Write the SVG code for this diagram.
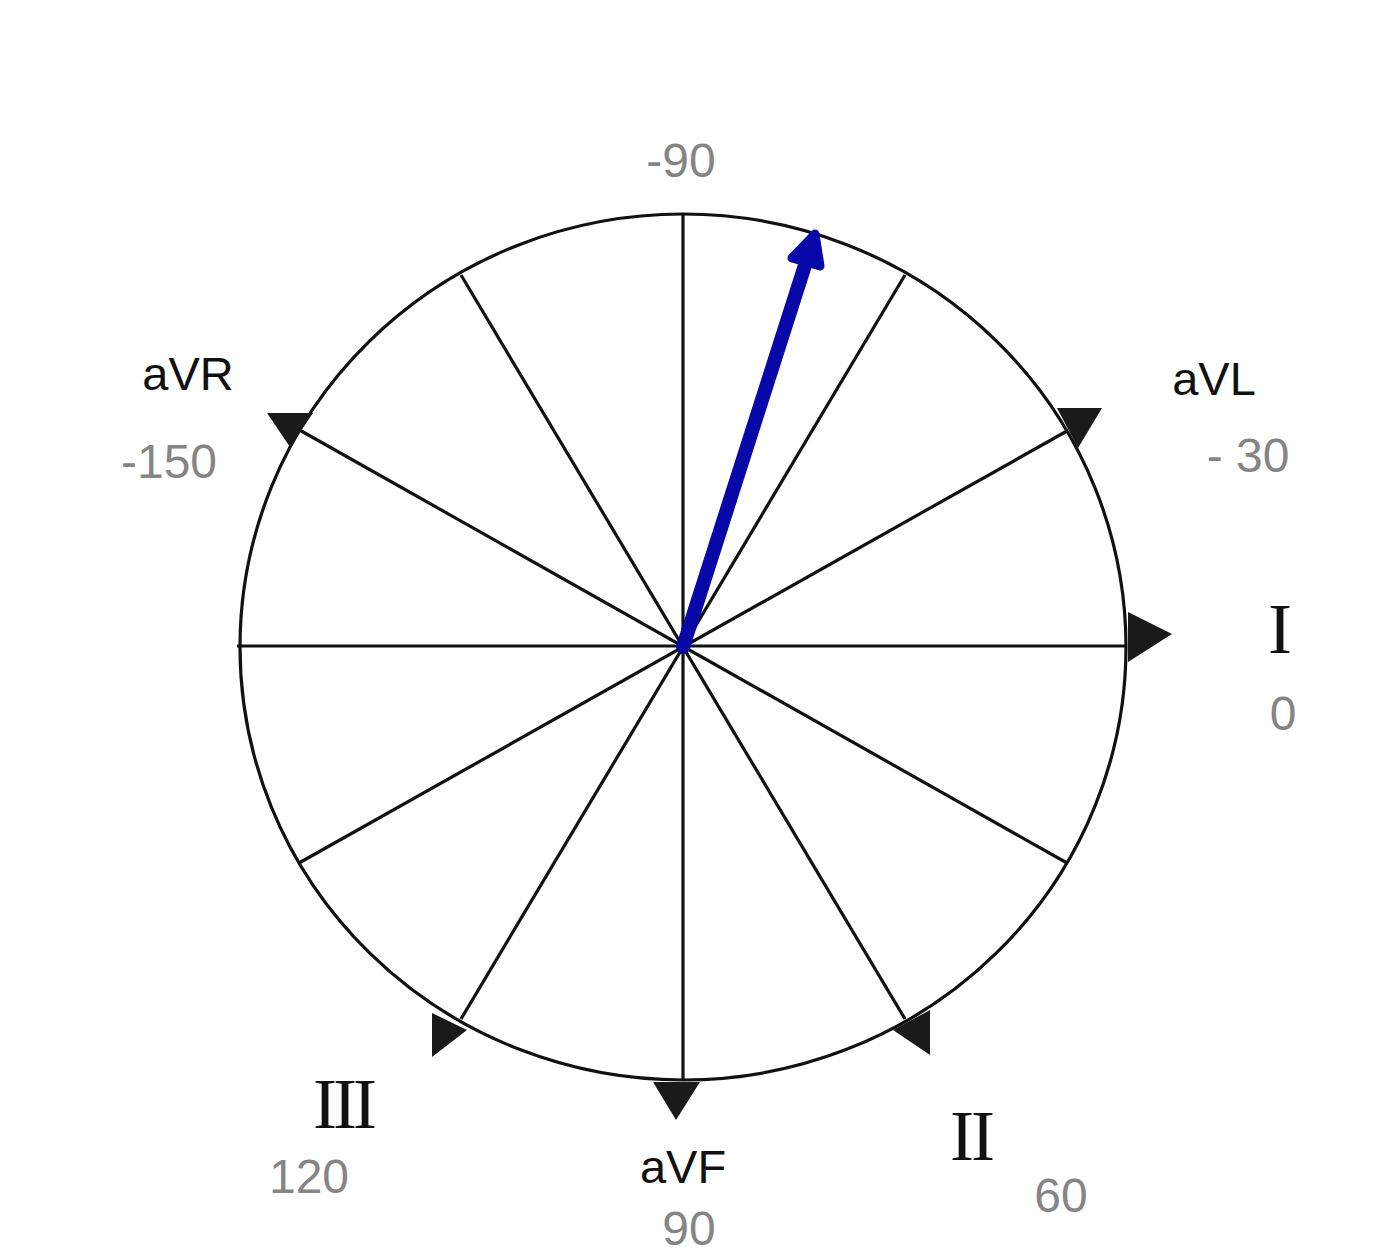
<svg xmlns="http://www.w3.org/2000/svg" width="1400" height="1257" viewBox="0 0 1400 1257">
<style>
.ax{stroke:#111;stroke-width:3.2;fill:none}
.tri{fill:#1a1a1a}
.lbl{font-family:"Liberation Sans",Arial,sans-serif;font-size:47px;fill:#111;text-anchor:middle}
.num{font-family:"Liberation Sans",Arial,sans-serif;font-size:48px;fill:#858585;text-anchor:middle}
.rom{font-family:"Liberation Serif","Times New Roman",serif;font-size:72px;fill:#111;text-anchor:middle}
</style>
<rect width="1400" height="1257" fill="#ffffff"/>
<g id="connectors">
<ellipse cx="683" cy="647" rx="443" ry="433" class="ax" stroke-width="3.6"/>
<line x1="237" y1="646" x2="1127" y2="646" class="ax"/>
<line x1="683" y1="214" x2="683" y2="1080" class="ax"/>
<line x1="299" y1="863" x2="1067" y2="431" class="ax"/>
<line x1="461" y1="1019" x2="905" y2="275" class="ax"/>
<line x1="461" y1="275" x2="905" y2="1019" class="ax"/>
<line x1="296" y1="428" x2="1067" y2="863" class="ax"/>
</g>
<g id="markers">
<polygon class="tri" points="1128,612 1128,662 1172,634"/>
<polygon class="tri" points="1057,408 1102,408 1078,448"/>
<polygon class="tri" points="267,413 313,413 290,447"/>
<polygon class="tri" points="653,1082 700,1082 676,1120"/>
<polygon class="tri" points="432,1013 432,1057 467,1030"/>
<polygon class="tri" points="930,1010 930,1055 893,1030"/>
</g>
<g id="vector">
<line x1="683" y1="647" x2="806" y2="262" stroke="#0808a8" stroke-width="14" stroke-linecap="round"/>
<polygon points="815,234 820,266 792,258" fill="#0808a8" stroke="#0808a8" stroke-width="9" stroke-linejoin="round"/>
</g>
<g id="labels">
<text class="num" x="681" y="177">-90</text>
<text class="lbl" x="188" y="390">aVR</text>
<text class="num" x="169" y="478">-150</text>
<text class="lbl" x="1214" y="395">aVL</text>
<text class="num" x="1248" y="472">- 30</text>
<text class="rom" x="1280" y="653">I</text>
<text class="num" x="1283" y="730">0</text>
<text class="rom" x="343" y="1128" letter-spacing="-4">III</text>
<text class="num" x="309" y="1193">120</text>
<text class="lbl" x="683" y="1183">aVF</text>
<text class="num" x="689" y="1245">90</text>
<text class="rom" x="971" y="1160" letter-spacing="-3">II</text>
<text class="num" x="1061" y="1212">60</text>
</g>
</svg>
